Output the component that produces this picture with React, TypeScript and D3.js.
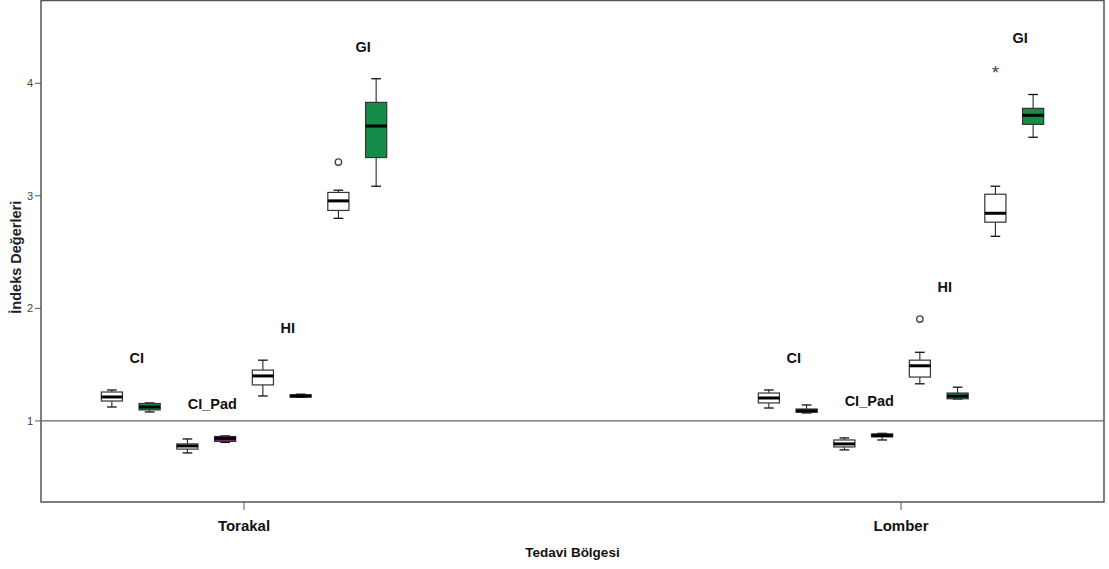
import React from 'react'
import * as d3 from 'd3'

// tedavi bölgeleri ve indeksler
const regions = ['Torakal', 'Lomber']
const indices = ['CI', 'CI_Pad', 'HI', 'GI']
const groups = ['A', 'B']

// [min, q1, median, q3, max] for each box, order: CI A, CI B, CI_Pad A, CI_Pad B, HI A, HI B, GI A, GI B
const torakalStats = [
  [1.124, 1.177, 1.213, 1.257, 1.275],
  [1.08, 1.098, 1.124, 1.155, 1.16],
  [0.716, 0.75, 0.778, 0.796, 0.84],
  [0.81, 0.818, 0.845, 0.862, 0.867],
  [1.222, 1.32, 1.40, 1.452, 1.54],
  [1.21, 1.212, 1.222, 1.232, 1.238],
  [2.80, 2.87, 2.955, 3.03, 3.05],
  [3.085, 3.34, 3.62, 3.83, 4.04],
]
const lomberStats = [
  [1.115, 1.16, 1.204, 1.248, 1.275],
  [1.071, 1.078, 1.089, 1.106, 1.142],
  [0.743, 0.769, 0.796, 0.831, 0.849],
  [0.831, 0.858, 0.871, 0.885, 0.89],
  [1.33, 1.39, 1.49, 1.54, 1.61],
  [1.195, 1.197, 1.22, 1.248, 1.30],
  [2.64, 2.766, 2.845, 3.014, 3.085],
  [3.52, 3.635, 3.715, 3.777, 3.90],
]
// outliers: region, box index, value, kind
const outliers = [
  { region: 'Torakal', box: 6, value: 3.30, kind: 'o' },
  { region: 'Lomber', box: 4, value: 1.905, kind: 'o' },
  { region: 'Lomber', box: 6, value: 4.12, kind: '*' },
]
const yTicks = [1, 2, 3, 4]
const refValue = 1

const fills: Record<string, string> = { CI: '#158c47', CI_Pad: '#8a1f8c', HI: '#158c47', GI: '#158c47' }

const W = 1109
const H = 569
const left = 41
const right = 1104
const top = 0.5
const bottom = 502

export default function App() {
  const statsByRegion: Record<string, number[][]> = { Torakal: torakalStats, Lomber: lomberStats }

  const x = d3.scalePoint().domain(regions).range([left, right]).padding(0.309)
  const boxKeys = indices.flatMap(ix => groups.map(g => ix + '|' + g))
  const inner = d3.scaleBand().domain(boxKeys).range([-151, 151]).paddingInner(0.44).paddingOuter(0.22)
  const y = d3.scaleLinear().domain([0.28, 4.735]).range([bottom, top])
  const bw = inner.bandwidth()
  const cap = bw * 0.46

  const boxX = (region: string, i: number) => (x(region) as number) + (inner(boxKeys[i]) as number)

  return (
    <svg width={W} height={H} style={{ position: 'absolute', left: 0, top: 0, background: '#fff' }}
      fontFamily="'Liberation Sans', Arial, sans-serif">
      <rect x={0} y={0} width={W} height={H} fill="#fff" />
      {/* frame */}
      <rect x={left} y={top} width={right - left} height={bottom - top} fill="none" stroke="#555" strokeWidth={1.5} />

      {/* y axis */}
      {yTicks.map(t => (
        <g key={t}>
          <line x1={left - 6} x2={left} y1={y(t)} y2={y(t)} stroke="#555" />
          <text x={left - 8} y={y(t)} dy="0.35em" textAnchor="end" fontSize={11} fill="#444">{t}</text>
        </g>
      ))}
      <text transform={`translate(21,${(top + bottom) / 2 + 6}) rotate(-90)`} textAnchor="middle"
        fontSize={14.5} fontWeight="bold" fill="#222">İndeks Değerleri</text>

      {/* reference line */}
      <line x1={left} x2={right} y1={y(refValue)} y2={y(refValue)} stroke="#666" strokeWidth={1.3} />

      {/* x axis */}
      {regions.map(r => (
        <g key={r}>
          <line x1={x(r)} x2={x(r)} y1={bottom} y2={bottom + 8} stroke="#555" />
          <text x={x(r)} y={531} textAnchor="middle" fontSize={15} fontWeight="bold" fill="#111">{r}</text>
        </g>
      ))}
      <text x={(left + right) / 2} y={557} textAnchor="middle" fontSize={13.5} fontWeight="bold" fill="#111">Tedavi Bölgesi</text>

      {/* boxes */}
      {regions.map(r => statsByRegion[r].map((s, i) => {
        const [mn, q1, md, q3, mx] = s
        const bx = boxX(r, i)
        const cx = bx + bw / 2
        const ix = boxKeys[i].split('|')[0]
        const fill = boxKeys[i].endsWith('|A') ? '#fff' : fills[ix]
        return (
          <g key={r + i}>
            <line x1={cx} x2={cx} y1={y(mx)} y2={y(q3)} stroke="#111" />
            <line x1={cx} x2={cx} y1={y(q1)} y2={y(mn)} stroke="#111" />
            <line x1={cx - cap / 2} x2={cx + cap / 2} y1={y(mx)} y2={y(mx)} stroke="#111" strokeWidth={1.3} />
            <line x1={cx - cap / 2} x2={cx + cap / 2} y1={y(mn)} y2={y(mn)} stroke="#111" strokeWidth={1.3} />
            <rect x={bx} y={y(q3)} width={bw} height={Math.max(y(q1) - y(q3), 1)} fill={fill} stroke="#333" strokeWidth={1.2} />
            <line x1={bx} x2={bx + bw} y1={y(md)} y2={y(md)} stroke="#000" strokeWidth={3} />
          </g>
        )
      }))}

      {/* outliers */}
      {outliers.map((o, k) => {
        const cx = boxX(o.region, o.box) + bw / 2
        return o.kind === 'o'
          ? <circle key={k} cx={cx} cy={y(o.value)} r={3.2} fill="none" stroke="#444" strokeWidth={1.4} />
          : <text key={k} x={cx} y={y(o.value) + 9} textAnchor="middle" fontSize={19} fill="#444">*</text>
      })}

      {/* index labels above each pair */}
      {regions.map(r => indices.map((ix, j) => {
        const s = statsByRegion[r]
        const vals = [...s[j * 2], ...s[j * 2 + 1],
          ...outliers.filter(o => o.region === r && Math.floor(o.box / 2) === j).map(o => o.value)]
        const top = d3.max(vals) as number
        const cx = (boxX(r, j * 2) + boxX(r, j * 2 + 1) + bw) / 2 + 6
        return (
          <text key={r + ix} x={cx} y={y(top) - 27} textAnchor="middle" fontSize={14.5} fontWeight="bold" fill="#111">{ix}</text>
        )
      }))}
    </svg>
  )
}
